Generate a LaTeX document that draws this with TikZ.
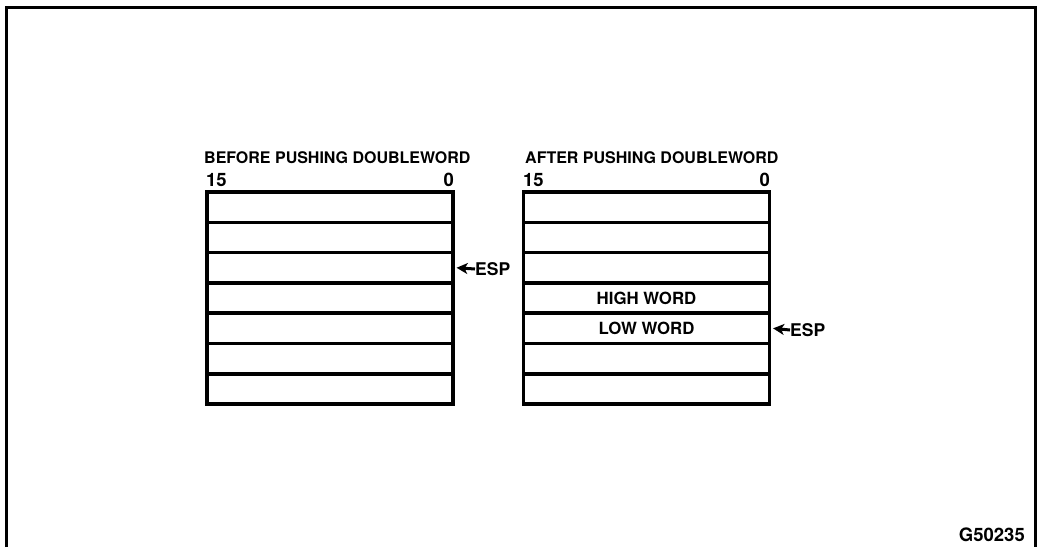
\documentclass[tikz,border=0pt]{standalone}
\usepackage{fontspec}
\setmainfont{TeX Gyre Heros}
\usetikzlibrary{arrows.meta}
\begin{document}
\begin{tikzpicture}[x=1pt,y=-1pt,
  cell/.style={draw, line width=3.6pt, minimum width=246pt, minimum height=30.3pt, inner sep=0pt, font=\bfseries\fontsize{16.8}{18}\selectfont},
  lbl/.style={inner sep=0pt, font=\bfseries\fontsize{16}{18}\selectfont},
  num/.style={inner sep=0pt, font=\bfseries\fontsize{18.5}{20}\selectfont},
  esptext/.style={inner sep=0pt, font=\bfseries\fontsize{17.5}{19}\selectfont},
  esparrow/.style={line width=3pt, -{Stealth[length=11pt,width=11pt,inset=3pt]}}]
\useasboundingbox (0,0) rectangle (1038,547);
\draw[line width=3pt] (6.5,547) -- (6.5,7.5) -- (1035.5,7.5) -- (1035.5,547);
% left stack
\foreach \i in {1,...,7} {
  \node[cell] (l\i) at (330, {192+30.3*(\i-0.5)}) {};
}
% right stack
\node[cell] (r1) at (646.5, {192+30.3*0.5}) {};
\node[cell] (r2) at (646.5, {192+30.3*1.5}) {};
\node[cell] (r3) at (646.5, {192+30.3*2.5}) {};
\node[cell] (r4) at (646.5, {192+30.3*3.5}) {HIGH WORD};
\node[cell] (r5) at (646.5, {192+30.3*4.5}) {LOW WORD};
\node[cell] (r6) at (646.5, {192+30.3*5.5}) {};
\node[cell] (r7) at (646.5, {192+30.3*6.5}) {};
% headings
\node[lbl, anchor=base west] (hl) at (204,163) {BEFORE PUSHING DOUBLEWORD};
\node[lbl, anchor=base west] (hr) at (525,163) {AFTER PUSHING DOUBLEWORD};
\node[num, anchor=base west] (l15) at (206,186) {15};
\node[num, anchor=base east] (l0) at (454,186) {0};
\node[num, anchor=base west] (r15) at (523,186) {15};
\node[num, anchor=base east] (r0) at (770,186) {0};
% ESP pointers
\node[esptext, anchor=west] (espl) at (475,269) {ESP};
\draw[esparrow] (espl.west) -- ([xshift=1.8pt]l3.east);
\node[esptext, anchor=west] (espr) at (790,330) {ESP};
\draw[esparrow] (espr.west) -- ([xshift=1.8pt]r5.east);
\node[num, anchor=base east] (fig) at (1025,541) {G50235};
\end{tikzpicture}
\end{document}
